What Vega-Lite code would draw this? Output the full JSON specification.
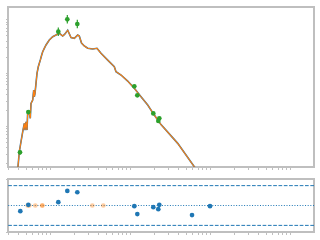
{
  "$schema": "https://vega.github.io/schema/vega-lite/v6.json",
  "padding": {"left": 4, "top": 6, "right": 0, "bottom": 0},
  "autosize": {"type": "pad"},
  "spacing": 12,
  "bounds": "flush",
  "config": {
    "view": {"stroke": "#bfbfbf", "strokeWidth": 2},
    "axis": {"domain": false, "labels": false, "ticks": true, "tickColor": "#bfbfbf", "tickSize": 2.5, "tickWidth": 1, "grid": false, "title": null}
  },
  "datasets": {
    "model": [
      {"t": 0.3948, "f": 0.149}, {"t": 0.4133, "f": 0.328}, {"t": 0.4339, "f": 0.506}, {"t": 0.4557, "f": 0.778},
      {"t": 0.4772, "f": 1.12}, {"t": 0.487, "f": 0.838}, {"t": 0.5012, "f": 1.2}, {"t": 0.516, "f": 0.838},
      {"t": 0.5265, "f": 1.85}, {"t": 0.5513, "f": 1.72}, {"t": 0.5673, "f": 1.39}, {"t": 0.5788, "f": 2.65},
      {"t": 0.6078, "f": 3.06}, {"t": 0.6255, "f": 4.72}, {"t": 0.6365, "f": 3.53}, {"t": 0.6494, "f": 4.09},
      {"t": 0.6683, "f": 6.3}, {"t": 0.6879, "f": 9.7}, {"t": 0.7139, "f": 12.9}, {"t": 0.7564, "f": 17.2},
      {"t": 0.7873, "f": 21.4}, {"t": 0.8103, "f": 24.7}, {"t": 0.8486, "f": 28.6}, {"t": 0.8913, "f": 33.0},
      {"t": 0.9801, "f": 40.9}, {"t": 1.081, "f": 47.2}, {"t": 1.189, "f": 50.7}, {"t": 1.307, "f": 54.6},
      {"t": 1.441, "f": 48.6}, {"t": 1.518, "f": 51.9}, {"t": 1.665, "f": 62.2}, {"t": 1.83, "f": 45.6},
      {"t": 2.013, "f": 44.0}, {"t": 2.22, "f": 50.7}, {"t": 2.324, "f": 48.6}, {"t": 2.476, "f": 35.9},
      {"t": 2.684, "f": 31.6}, {"t": 2.961, "f": 28.6}, {"t": 3.419, "f": 27.7}, {"t": 3.868, "f": 28.6},
      {"t": 4.341, "f": 23.0}, {"t": 5.263, "f": 17.2}, {"t": 6.366, "f": 12.9}, {"t": 6.683, "f": 10.4},
      {"t": 7.72, "f": 9.02}, {"t": 9.36, "f": 6.95}, {"t": 11.32, "f": 5.08}, {"t": 13.73, "f": 3.53},
      {"t": 16.65, "f": 2.47}, {"t": 20.13, "f": 1.6}, {"t": 24.41, "f": 1.06}, {"t": 39.5, "f": 0.472},
      {"t": 63.65, "f": 0.172}, {"t": 77.2, "f": 0.12}
    ],
    "obs": [
      {"t": 0.4217, "f": 0.32, "lo": 0.29, "hi": 0.35},
      {"t": 0.5357, "f": 1.82, "lo": 1.7, "hi": 1.95},
      {"t": 1.27, "f": 58.5, "lo": 48.5, "hi": 70.5},
      {"t": 1.646, "f": 100, "lo": 83, "hi": 120},
      {"t": 2.194, "f": 81.6, "lo": 67.7, "hi": 98.3},
      {"t": 11.32, "f": 5.53, "lo": 5.3, "hi": 5.77},
      {"t": 12.34, "f": 3.75, "lo": 3.6, "hi": 3.9},
      {"t": 19.56, "f": 1.72, "lo": 1.65, "hi": 1.8},
      {"t": 22.58, "f": 1.24, "lo": 1.19, "hi": 1.29},
      {"t": 23.24, "f": 1.39, "lo": 1.33, "hi": 1.45}
    ],
    "resid": [
      {"t": 0.4254, "r": -0.85, "kind": "det"},
      {"t": 0.5357, "r": 0.1, "kind": "det"},
      {"t": 1.27, "r": 0.5, "kind": "det"},
      {"t": 1.646, "r": 2.2, "kind": "det"},
      {"t": 2.194, "r": 2.0, "kind": "det"},
      {"t": 11.32, "r": -0.1, "kind": "det"},
      {"t": 12.34, "r": -1.3, "kind": "det"},
      {"t": 19.56, "r": -0.25, "kind": "det"},
      {"t": 22.58, "r": -0.55, "kind": "det"},
      {"t": 23.24, "r": 0.1, "kind": "det"},
      {"t": 59.6, "r": -1.45, "kind": "det"},
      {"t": 100, "r": -0.1, "kind": "det"},
      {"t": 0.5265, "r": 0, "kind": "lim"},
      {"t": 0.5513, "r": 0, "kind": "lim"},
      {"t": 0.6551, "r": 0, "kind": "lim"},
      {"t": 0.801, "r": 0, "kind": "lim"},
      {"t": 0.801, "r": 0, "kind": "lim"},
      {"t": 3.38, "r": 0, "kind": "lim"},
      {"t": 4.638, "r": 0, "kind": "lim"}
    ],
    "hlines": [
      {"y": 3, "style": "dash"}, {"y": -3, "style": "dash"}, {"y": 0, "style": "dot"}
    ]
  },
  "vconcat": [
    {
      "width": 306,
      "height": 160,
      "layer": [
        {
          "data": {"name": "model"},
          "mark": {"type": "line", "color": "#1f77b4", "strokeWidth": 1.6, "clip": true},
          "encoding": {
            "x": {"field": "t", "type": "quantitative", "scale": {"type": "log", "domain": [0.2985, 1995], "nice": false},
                  "axis": {"values": [0.3,0.4,0.5,0.6,0.7,0.8,0.9,1,2,3,4,5,6,7,8,9,10,20,30,40,50,60,70,80,90,100,200,300,400,500,600,700,800,900,1000]}},
            "y": {"field": "f", "type": "quantitative", "scale": {"type": "log", "domain": [0.17, 170], "nice": false},
                  "axis": {"values": [0.2,0.3,0.4,0.5,0.6,0.7,0.8,0.9,1,2,3,4,5,6,7,8,9,10,20,30,40,50,60,70,80,90,100]}}
          }
        },
        {
          "data": {"name": "model"},
          "mark": {"type": "line", "color": "#ff7f0e", "strokeWidth": 1.1, "clip": true},
          "encoding": {
            "x": {"field": "t", "type": "quantitative"},
            "y": {"field": "f", "type": "quantitative"}
          }
        },
        {
          "data": {"name": "obs"},
          "mark": {"type": "rule", "color": "#2ca02c", "strokeWidth": 1.2, "clip": true},
          "encoding": {
            "x": {"field": "t", "type": "quantitative"},
            "y": {"field": "lo", "type": "quantitative"},
            "y2": {"field": "hi"}
          }
        },
        {
          "data": {"name": "obs"},
          "mark": {"type": "point", "filled": true, "color": "#2ca02c", "size": 22, "opacity": 1, "clip": true},
          "encoding": {
            "x": {"field": "t", "type": "quantitative"},
            "y": {"field": "f", "type": "quantitative"}
          }
        }
      ]
    },
    {
      "width": 306,
      "height": 53,
      "layer": [
        {
          "data": {"name": "hlines"},
          "transform": [{"filter": "datum.style == 'dash'"}],
          "mark": {"type": "rule", "color": "#1f77b4", "strokeWidth": 1, "strokeDash": [3.7, 1.6]},
          "encoding": {"y": {"field": "y", "type": "quantitative"}}
        },
        {
          "data": {"name": "hlines"},
          "transform": [{"filter": "datum.style == 'dot'"}],
          "mark": {"type": "rule", "color": "#1f77b4", "strokeWidth": 1, "strokeDash": [1, 1.65]},
          "encoding": {"y": {"field": "y", "type": "quantitative"}}
        },
        {
          "data": {"name": "resid"},
          "mark": {"type": "point", "filled": true, "size": 22, "clip": true},
          "encoding": {
            "x": {"field": "t", "type": "quantitative", "scale": {"type": "log", "domain": [0.2985, 1995], "nice": false},
                  "axis": {"values": [0.3,0.4,0.5,0.6,0.7,0.8,0.9,1,2,3,4,5,6,7,8,9,10,20,30,40,50,60,70,80,90,100,200,300,400,500,600,700,800,900,1000]}},
            "y": {"field": "r", "type": "quantitative", "scale": {"domain": [-4, 4], "nice": false},
                  "axis": {"values": [-4, -2, 0, 2, 4]}},
            "color": {"field": "kind", "type": "nominal", "scale": {"domain": ["det", "lim"], "range": ["#1f77b4", "#ff7f0e"]}, "legend": null},
            "opacity": {"field": "kind", "type": "nominal", "scale": {"domain": ["det", "lim"], "range": [1, 0.4]}, "legend": null},
            "order": {"field": "kind", "sort": "descending"}
          }
        }
      ]
    }
  ]
}
